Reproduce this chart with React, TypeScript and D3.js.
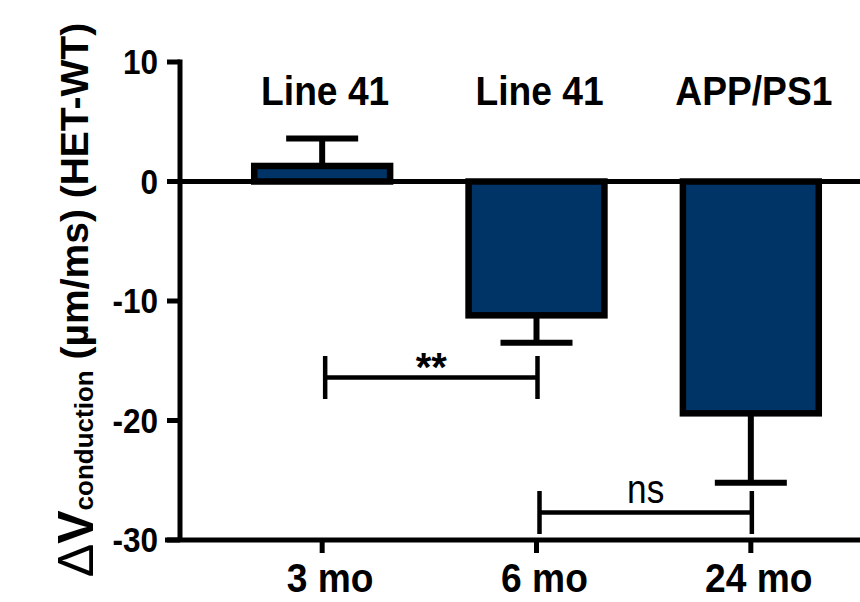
import React from 'react'
import { scaleBand, scaleLinear } from 'd3'

// values
const categories = ['3 mo', '6 mo', '24 mo']
const groupLabels = ['Line 41', 'Line 41', 'APP/PS1']
const means = [1.3, -11.2, -19.4]
const errors = [3.6, -13.5, -25.2]
const yTicks = [10, 0, -10, -20, -30]

// significance brackets: [from, to, y value, label]
const brackets: [string, string, number, string][] = [
  ['3 mo', '6 mo', -16.4, '**'],
  ['6 mo', '24 mo', -27.7, 'ns'],
]

const W = 860
const H = 602
const font = '"Liberation Sans", Arial, sans-serif'

// text in the figure is a bit narrow, so squeeze it horizontally
const Label = (p: { x: number, y: number, size: number, sx?: number, anchor?: string, bold?: boolean, children: any }) => (
  <text transform={`translate(${p.x},${p.y}) scale(${p.sx ?? 0.9},1)`}
    textAnchor={p.anchor ?? 'middle'} fontSize={p.size} fontWeight={p.bold === false ? 'normal' : 'bold'}>
    {p.children}
  </text>
)

export default function App() {
  //scales
  const x = scaleBand<string>()
    .domain(categories)
    .range([215, 858])
    .paddingInner(0.366)
    .paddingOuter(0.183)
  const y = scaleLinear().domain([-30, 10]).range([540, 62])

  const axisX = 180
  const bw = x.bandwidth()
  const cx = (c: string) => (x(c) as number) + bw / 2
  const capW = 72
  const bracketH = 21.5

  return (
    <svg width={W} height={H} style={{ position: 'absolute', left: 0, top: 0, background: '#fff' }}
      fontFamily={font}>
      {/* bars */}
      {categories.map((c, i) => (
        <rect key={c}
          x={x(c)}
          y={y(Math.max(0, means[i]))}
          width={bw}
          height={Math.abs(y(means[i]) - y(0))}
          fill="#003366"
          stroke="#000"
          strokeWidth={6.5} />
      ))}

      {/* error bars */}
      {categories.map((c, i) => (
        <g key={c} stroke="#000" strokeWidth={6}>
          <line x1={cx(c)} x2={cx(c)} y1={y(means[i])} y2={y(errors[i])} />
          <line x1={cx(c) - capW / 2} x2={cx(c) + capW / 2} y1={y(errors[i])} y2={y(errors[i])} />
        </g>
      ))}

      {/* zero line */}
      <line x1={axisX - 13} x2={W} y1={y(0)} y2={y(0)} stroke="#000" strokeWidth={5} />

      {/* y axis */}
      <line x1={axisX} x2={axisX} y1={y(10) - 2.5} y2={y(-30)} stroke="#000" strokeWidth={5} />
      {yTicks.map(t => (
        <g key={t}>
          <line x1={axisX - 13} x2={axisX} y1={y(t)} y2={y(t)} stroke="#000" strokeWidth={5} />
          <Label x={158} y={y(t) + 12} size={35} sx={0.9} anchor="end">{t}</Label>
        </g>
      ))}

      {/* bottom axis */}
      <line x1={axisX - 15} x2={W} y1={y(-30)} y2={y(-30)} stroke="#000" strokeWidth={5} />
      {categories.map(c => (
        <g key={c}>
          <line x1={cx(c)} x2={cx(c)} y1={y(-30)} y2={y(-30) + 13} stroke="#000" strokeWidth={5} />
          <Label x={cx(c) + 8} y={592} size={40} sx={0.93}>{c}</Label>
        </g>
      ))}

      {/* group labels */}
      {categories.map((c, i) => (
        <Label key={c} x={cx(c) + 3} y={105} size={40} sx={0.93}>{groupLabels[i]}</Label>
      ))}

      {/* brackets */}
      {brackets.map(([a, b, v, label]) => {
        const x1 = cx(a) + 3
        const x2 = cx(b) + 1
        const yy = y(v)
        return (
          <g key={label}>
            <g stroke="#000" strokeWidth={4.5}>
              <line x1={x1} x2={x2} y1={yy} y2={yy} />
              <line x1={x1} x2={x1} y1={yy - bracketH} y2={yy + bracketH} />
              <line x1={x2} x2={x2} y1={yy - bracketH} y2={yy + bracketH} />
            </g>
            {label === '**'
              ? <Label x={(x1 + x2) / 2} y={yy + 4} size={40} sx={1}>{label}</Label>
              : <Label x={(x1 + x2) / 2} y={yy - 10} size={40} sx={0.88} bold={false}>{label}</Label>}
          </g>
        )
      })}

      {/* y axis title */}
      <text transform="rotate(-90)" x={-300} y={93} textAnchor="middle" fontWeight="bold">
        <tspan fontSize={50} fontWeight="normal">Δ</tspan>
        <tspan fontSize={50}>V</tspan>
        <tspan fontSize={26}>conduction</tspan>
        <tspan fontSize={39} dy={-5}> (µm/ms) (HET-WT)</tspan>
      </text>
    </svg>
  )
}
